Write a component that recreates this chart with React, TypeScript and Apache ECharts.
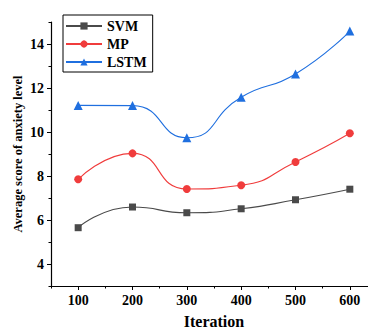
import React, { useEffect, useRef } from "react";
import * as echarts from "echarts";

const iterations = [100, 200, 300, 400, 500, 600];
const svm = [5.65, 6.59, 6.33, 6.51, 6.92, 7.4];
const mp = [7.85, 9.03, 7.41, 7.58, 8.64, 9.94];
const lstm = [11.21, 11.2, 9.74, 11.58, 12.64, 14.59];
const xMajorTicks = [100, 200, 300, 400, 500, 600];
const xMinorTicks = [50, 150, 250, 350, 450, 550, 650];
const yMajorTicks = [4, 6, 8, 10, 12, 14];
const yMinorTicks = [3, 5, 7, 9, 11, 13, 15];

const FONT = "'Liberation Serif', 'Times New Roman', serif";

export default function App() {
  const ref = useRef<HTMLDivElement>(null);
  useEffect(() => {
    if (!ref.current) return;
    const chart = echarts.init(ref.current, undefined, { renderer: "svg" });
    const labelStyle = { fontFamily: FONT, fontWeight: "bold" as const, fontSize: 14, color: "#000" };
    const mk = (name: string, data: number[], color: string, symbol: string, size: number) => ({
      name,
      type: "line",
      smooth: 0.55,
      xAxisIndex: 0,
      yAxisIndex: 0,
      data: iterations.map((x, i) => [x, data[i]]),
      symbol,
      symbolSize: size,
      itemStyle: { color },
      lineStyle: { color, width: 1.1 },
    });
    chart.setOption({
      animation: false,
      grid: { left: 51, top: 22, bottom: 44, right: -9, outerBoundsMode: "none", containLabel: false },
      legend: {
        orient: "vertical",
        left: 63,
        top: 15,
        borderColor: "#000",
        borderWidth: 1,
        padding: [4, 6, 3, 2],
        itemGap: 4,
        itemWidth: 36,
        itemHeight: 9,
        textStyle: { ...labelStyle, fontSize: 14 },
        data: ["SVM", "MP", "LSTM"],
      },
      xAxis: [
        {
          type: "value",
          min: 50,
          max: 650,
          name: "Iteration",
          nameLocation: "middle",
          nameGap: 27,
          nameMoveOverlap: false,
          nameTextStyle: { ...labelStyle, fontSize: 16 },
          axisLine: { show: true, lineStyle: { color: "#000", width: 1.2 } },
          axisTick: { show: true, customValues: xMajorTicks, length: 4, lineStyle: { color: "#000" } },
          axisLabel: { customValues: xMajorTicks, margin: 7, ...labelStyle },
          splitLine: { show: false },
        },
        {
          type: "value",
          min: 50,
          max: 650,
          position: "bottom",
          axisLine: { show: false },
          axisTick: { show: true, customValues: xMinorTicks, length: 2.5, lineStyle: { color: "#000" } },
          axisLabel: { show: false },
          splitLine: { show: false },
        },
      ],
      yAxis: [
        {
          type: "value",
          min: 3,
          max: 15,
          name: "Average score of anxiety level",
          nameLocation: "middle",
          nameGap: 27,
          nameMoveOverlap: false,
          nameTextStyle: { ...labelStyle, fontSize: 12.5 },
          axisLine: { show: true, lineStyle: { color: "#000", width: 1.2 } },
          axisTick: { show: true, customValues: yMajorTicks, length: 4, lineStyle: { color: "#000" } },
          axisLabel: { customValues: yMajorTicks, margin: 7, ...labelStyle },
          splitLine: { show: false },
        },
        {
          type: "value",
          min: 3,
          max: 15,
          position: "left",
          axisLine: { show: false },
          axisTick: { show: true, customValues: yMinorTicks, length: 2.5, lineStyle: { color: "#000" } },
          axisLabel: { show: false },
          splitLine: { show: false },
        },
      ],
      series: [
        mk("SVM", svm, "#4a4a4a", "rect", 7),
        mk("MP", mp, "#f03c3c", "circle", 8),
        mk("LSTM", lstm, "#1f6fdf", "triangle", 9),
      ],
    });
    return () => chart.dispose();
  }, []);
  return (
    <div
      ref={ref}
      style={{ position: "absolute", left: 0, top: 0, width: 368, height: 330, background: "#fff" }}
    />
  );
}
